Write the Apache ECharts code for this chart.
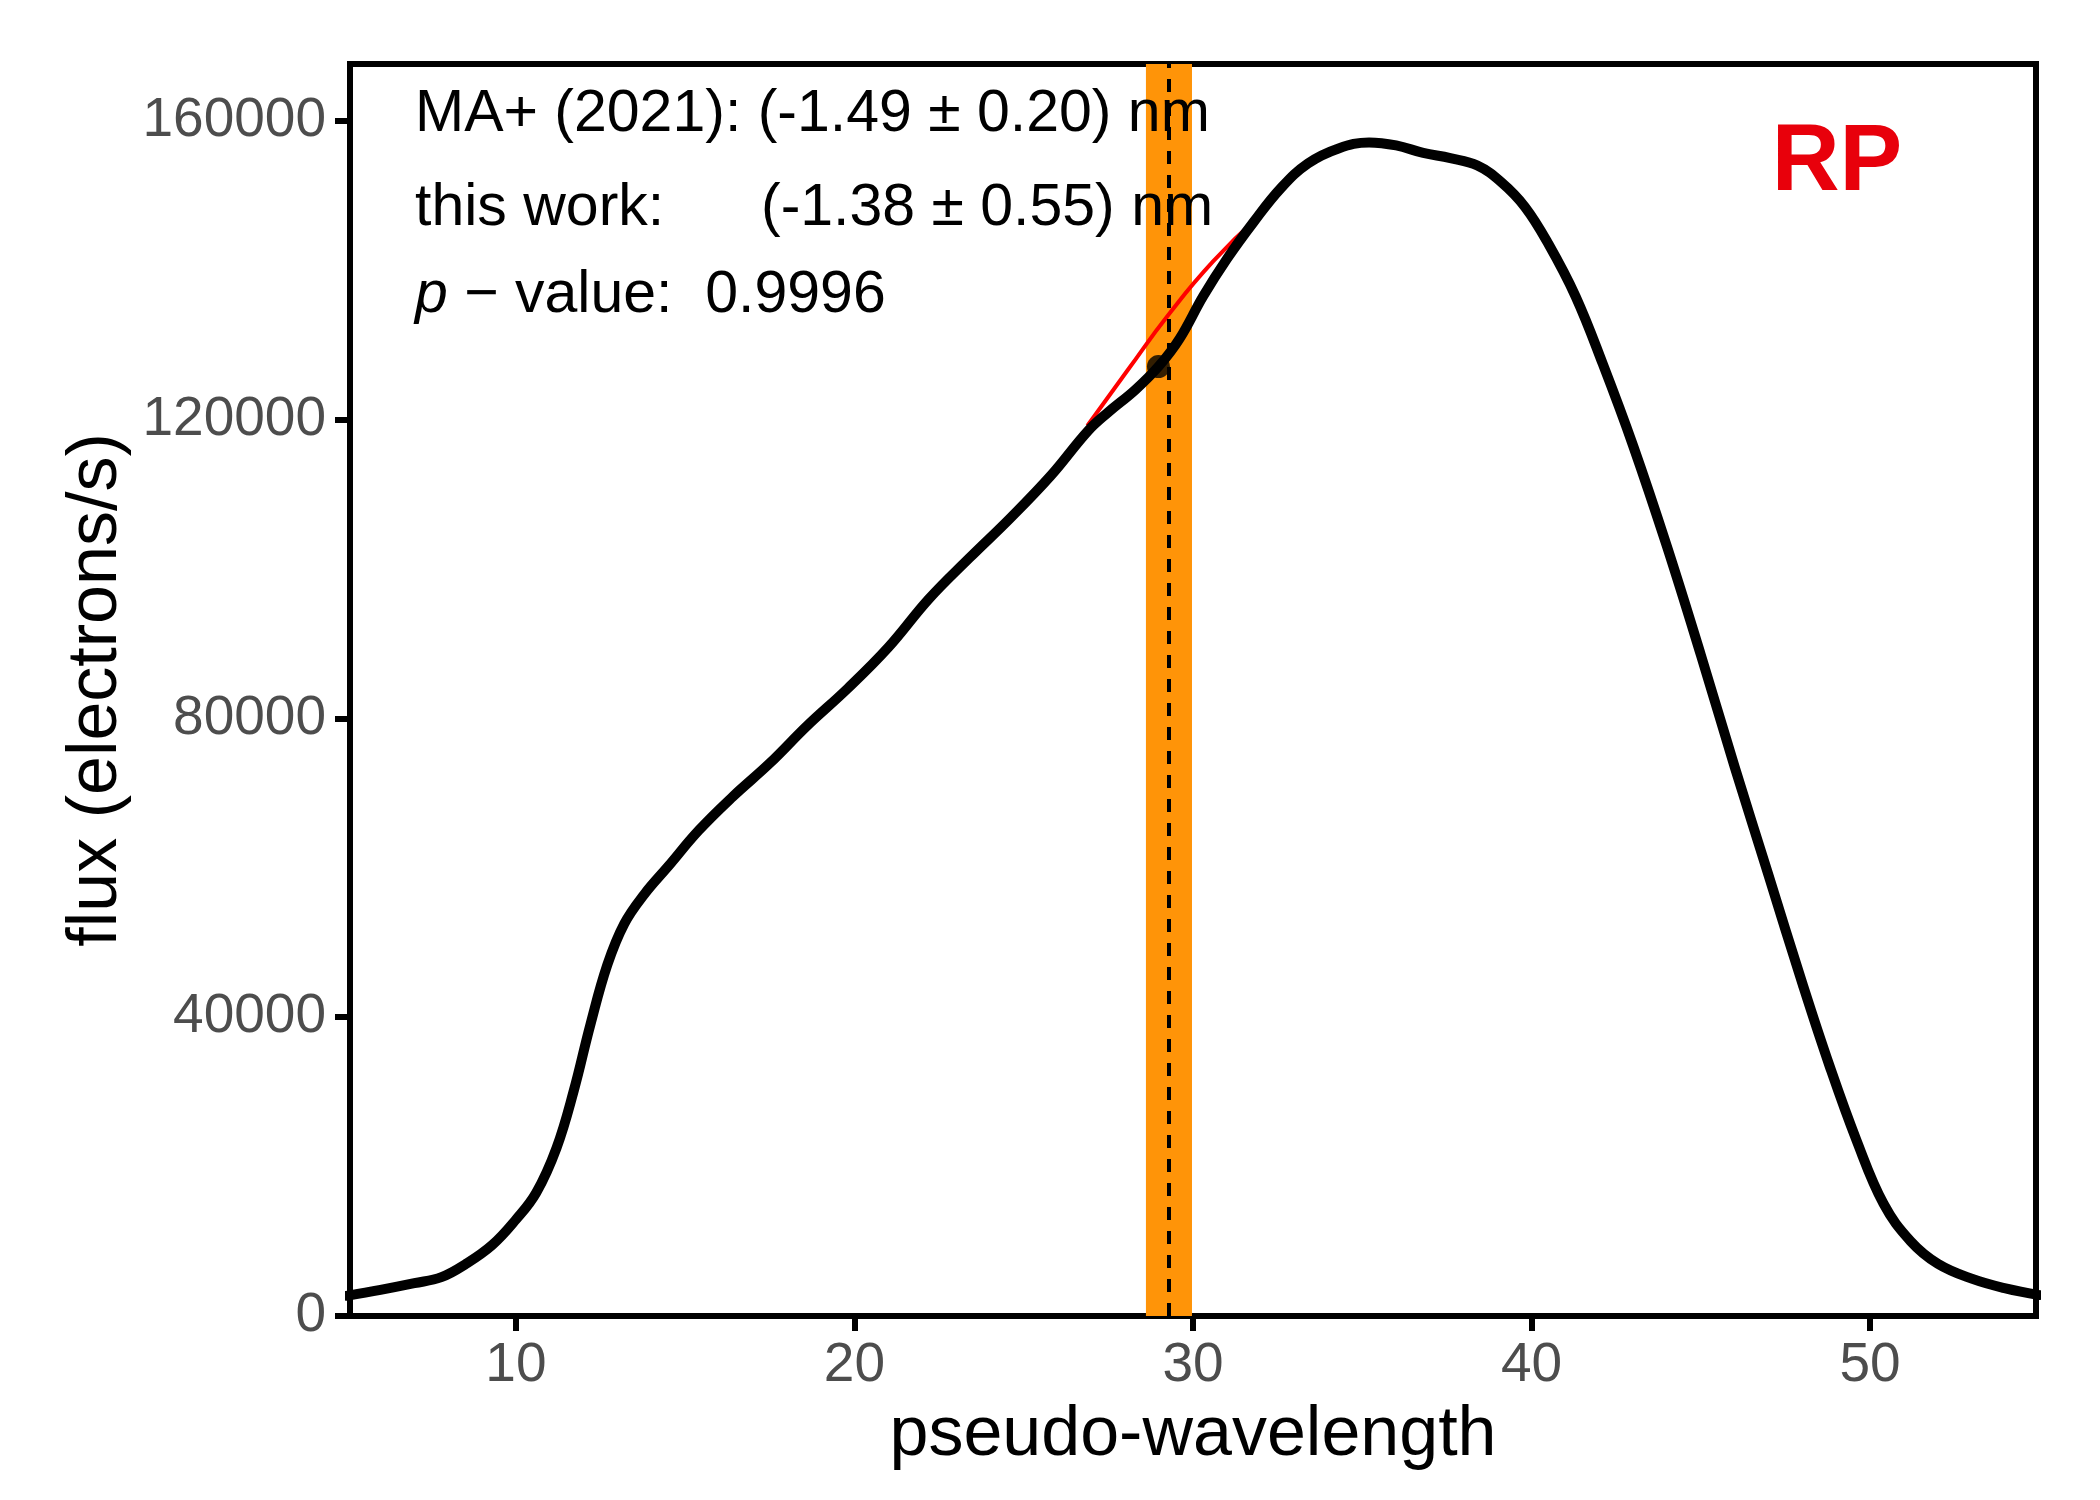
<!DOCTYPE html>
<html lang="en" style="height: 100%">
<head>
  <meta charset="utf-8">
</head>
<body style="height: 100%; margin: 0; background: #fff">
  <div id="container" style="width: 2100px; height: 1500px"></div>
  <script src="https://cdn.jsdelivr.net/npm/echarts@6/dist/echarts.min.js"></script>
  <script>
    // spectrum (pseudo-wavelength, flux)
    var waveX = [5.0, 6.0, 7.0, 7.8, 8.5, 9.3, 10.0, 10.6, 11.2, 11.7, 12.2, 12.7, 13.2, 13.8, 14.5,
      15.4, 16.4, 17.5, 18.6, 19.8, 21.0, 22.2, 23.4, 24.6, 25.8, 26.9, 27.5, 28.3, 29.0, 29.6,
      30.3, 31.0, 31.8, 32.6, 33.4, 34.3, 35.2, 36.0, 36.8, 37.6, 38.4, 39.1, 39.8, 40.5, 41.3,
      42.1, 43.0, 44.0, 45.0, 46.0, 47.0, 48.0, 48.8, 49.6, 50.4, 51.2, 52.0, 53.0, 54.0, 55.0];
    var fluxY = [2700, 3500, 4400, 5200, 6900, 9500, 12900, 16500, 22500, 30000, 39000, 47000, 52500, 56500, 60200,
      65000, 69500, 74000, 79000, 84000, 89500, 96000, 101500, 106800, 112500, 118500, 121000, 124000, 127200, 130800,
      136500, 141500, 146500, 151000, 154300, 156300, 157100, 156700, 155700, 155000, 154000, 151800, 148500, 143500, 136500,
      127500, 116500, 103000, 88500, 73500, 59000, 44500, 33500, 23500, 15000, 10000, 7000, 5000, 3700, 2800];

    // local fit (red)
    var fitX = [26.88, 28.1, 29.27, 30.6, 31.93];
    var fitY = [119170, 126800, 134000, 141200, 147110];

    // feature position and band
    var pointX = 28.98, pointY = 127100;
    var bandLo = 28.61, bandHi = 29.97;
    var dashX = 29.27;

    var xTicks = [10, 20, 30, 40, 50];
    var yTicks = [0, 40000, 80000, 120000, 160000];

    var font = 'Liberation Sans, Arial, sans-serif';

    var dom = document.getElementById('container');
    var myChart = echarts.init(dom, null, { renderer: 'canvas' });

    var spectrum = waveX.map(function (x, i) { return [x, fluxY[i]]; });
    var fit = fitX.map(function (x, i) { return [x, fitY[i]]; });
    var plain = function (v) { return String(v); };

    var option = {
      animation: false,
      backgroundColor: '#fff',
      grid: {
        left: 350, right: 64, top: 64, bottom: 184,
        show: true, borderColor: '#000', borderWidth: 6, backgroundColor: '#fff'
      },
      xAxis: {
        type: 'value', min: 5.1, max: 54.9,
        name: 'pseudo-wavelength', nameLocation: 'middle', nameGap: 85,
        nameTextStyle: { fontSize: 70, color: '#000', fontFamily: font },
        axisLine: { show: true, lineStyle: { color: '#000', width: 6 } },
        axisTick: { show: true, length: 15, lineStyle: { color: '#000', width: 6 }, customValues: xTicks },
        axisLabel: { fontSize: 55, color: '#4D4D4D', fontFamily: font, margin: 22, customValues: xTicks, formatter: plain },
        splitLine: { show: false }
      },
      yAxis: {
        type: 'value', min: 0, max: 167600,
        name: 'flux (electrons/s)', nameLocation: 'middle', nameGap: 215,
        nameTextStyle: { fontSize: 70, color: '#000', fontFamily: font },
        axisLine: { show: true, lineStyle: { color: '#000', width: 6 } },
        axisTick: { show: true, length: 15, lineStyle: { color: '#000', width: 6 }, customValues: yTicks },
        axisLabel: { fontSize: 55, color: '#4D4D4D', fontFamily: font, margin: 24, customValues: yTicks, formatter: plain },
        splitLine: { show: false }
      },
      series: [
        {
          type: 'line', data: [], silent: true, z: 1,
          markArea: {
            silent: true,
            itemStyle: { color: '#FF9408', opacity: 1 },
            data: [[{ xAxis: bandLo }, { xAxis: bandHi }]]
          }
        },
        {
          type: 'line', data: fit, smooth: true, showSymbol: false, z: 3,
          lineStyle: { color: '#FF0000', width: 4 }
        },
        {
          type: 'line', data: spectrum, smooth: 0.4, showSymbol: false, z: 4,
          lineStyle: { color: '#000', width: 10, cap: 'round', join: 'round' }
        },
        {
          type: 'scatter', data: [[pointX, pointY]], symbolSize: 23, z: 5,
          itemStyle: { color: '#000' }
        },
        {
          type: 'line', data: [], silent: true, z: 6,
          markLine: {
            silent: true, symbol: 'none', label: { show: false },
            lineStyle: { color: '#000', type: [13, 11], width: 4 },
            data: [{ xAxis: dashX }]
          }
        }
      ],
      graphic: [
        { type: 'text', x: 415, y: 115, z: 10,
          style: { text: 'MA+ (2021): (-1.49 ± 0.20) nm', fontSize: 59, fontFamily: font, fill: '#000', verticalAlign: 'middle' } },
        { type: 'text', x: 415, y: 209, z: 10,
          style: { text: 'this work:', fontSize: 59, fontFamily: font, fill: '#000', verticalAlign: 'middle' } },
        { type: 'text', x: 761, y: 209, z: 10,
          style: { text: '(-1.38 ± 0.55) nm', fontSize: 59, fontFamily: font, fill: '#000', verticalAlign: 'middle' } },
        { type: 'text', x: 415, y: 296, z: 10,
          style: {
            text: '{it|p} − value:  0.9996', fontSize: 59, fontFamily: font, fill: '#000', verticalAlign: 'middle',
            rich: { it: { fontStyle: 'italic', fontSize: 59, fontFamily: font } }
          } },
        { type: 'text', x: 1837, y: 164, z: 10,
          style: { text: 'RP', fontSize: 94, fontWeight: 'bold', fontFamily: font, fill: '#E8000B', align: 'center', verticalAlign: 'middle' } }
      ]
    };

    myChart.setOption(option);
    window.addEventListener('resize', myChart.resize);
  </script>
</body>
</html>
